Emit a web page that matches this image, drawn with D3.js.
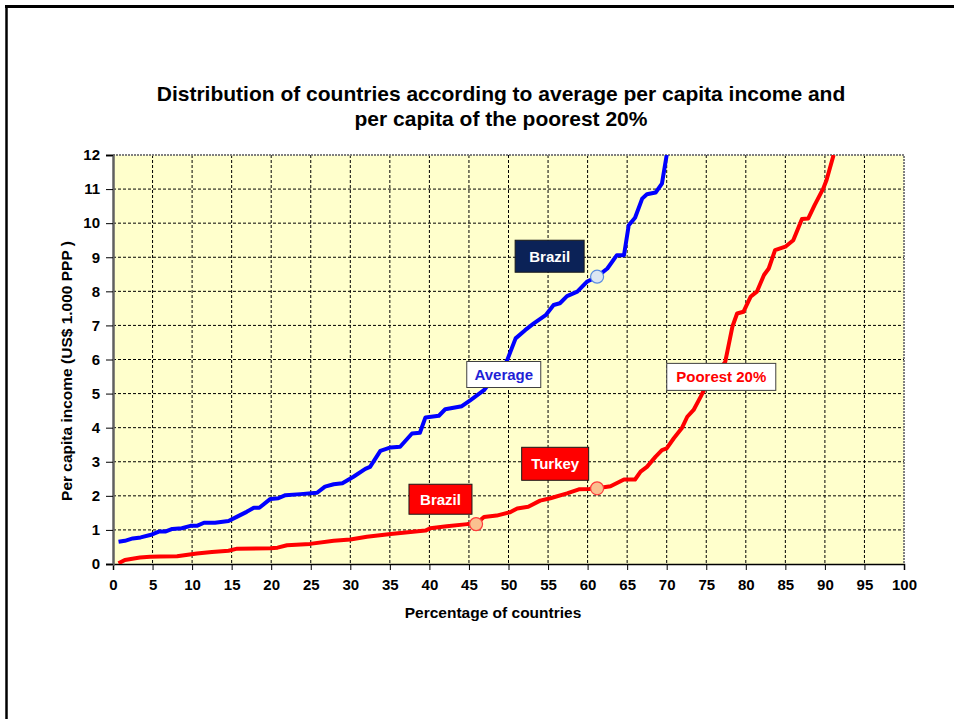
<!DOCTYPE html>
<html>
<head>
<meta charset="utf-8">
<script src="https://cdn.jsdelivr.net/npm/d3@7"></script>
<style>
  body { margin: 0; background: #fff; }
  svg text { font-family: "Liberation Sans", Arial, sans-serif; font-weight: bold; }
</style>
</head>
<body>
<div id="chart"></div>
<script>
// percentage of countries (x) and per capita income, US$ 1.000 PPP (y)
var avgPct = [0.7, 1.5, 2.5, 3.5, 4.7, 5.8, 6.6, 7.5, 8.7, 9.8, 10.6, 11.5, 12.9, 14.6, 15.7, 16.9, 17.8, 18.5,
  19.9, 20.9, 21.8, 23.7, 25.8, 26.8, 27.9, 29, 30.4, 31.9, 32.5, 33.8, 35.1, 36.3, 37.8, 38.8, 39.5, 41.2,
  42, 44.1, 45.2, 46.9, 49.8, 50.9, 52.1, 53.2, 54.7, 55.7, 56.5, 57.4, 58.7, 59.9, 61.2, 62.5, 63.7, 64.6,
  65.2, 66, 66.9, 67.5, 68.6, 69.4, 70];
var avgIncome = [0.65, 0.68, 0.75, 0.78, 0.85, 0.95, 0.95, 1.03, 1.05, 1.12, 1.12, 1.21, 1.21, 1.26, 1.39, 1.53, 1.65, 1.65,
  1.91, 1.93, 2.02, 2.05, 2.09, 2.27, 2.34, 2.37, 2.56, 2.79, 2.85, 3.32, 3.42, 3.44, 3.83, 3.85, 4.3, 4.35,
  4.54, 4.63, 4.81, 5.1, 5.96, 6.62, 6.86, 7.06, 7.3, 7.6, 7.65, 7.86, 7.99, 8.28, 8.43, 8.67, 9.06, 9.06,
  9.94, 10.16, 10.72, 10.85, 10.9, 11.16, 12];

var poorPct = [0.7, 1.5, 3.4, 4.7, 6, 8.1, 10.6, 12.5, 14.6, 15.7, 19.9, 20.8, 22, 24.9, 27.9, 30, 32.1, 35.1,
  39.5, 40.1, 42.2, 44.8, 45.9, 46.9, 48.5, 50.2, 51.1, 52.5, 54, 55.3, 57.4, 58.9, 60.2, 61.2, 62.9, 64.6,
  66, 66.7, 67.5, 68.6, 69.4, 70, 70.9, 71.9, 72.6, 73.4, 74.3, 74.9, 77.4, 78.3, 78.9, 79.7, 80.6, 81.4,
  82.3, 82.9, 83.7, 85, 86, 87.1, 87.9, 88.7, 89.8, 90.2, 91.1];
var poorIncome = [0.02, 0.12, 0.19, 0.21, 0.22, 0.23, 0.31, 0.35, 0.39, 0.45, 0.46, 0.48, 0.55, 0.59, 0.68, 0.72, 0.8, 0.88,
  0.98, 1.05, 1.11, 1.17, 1.18, 1.38, 1.42, 1.52, 1.63, 1.68, 1.86, 1.93, 2.07, 2.19, 2.2, 2.22, 2.28, 2.48,
  2.48, 2.71, 2.85, 3.15, 3.34, 3.39, 3.69, 3.98, 4.32, 4.52, 4.91, 5.2, 5.93, 6.96, 7.35, 7.4, 7.84, 7.99,
  8.48, 8.67, 9.21, 9.31, 9.5, 10.12, 10.14, 10.53, 11.02, 11.26, 12];

// highlighted countries
var markerSeries = ["avg", "poor", "poor"];
var markerNames = ["Brazil", "Brazil", "Turkey"];
var markerPct = [61.2, 45.9, 61.2];
var markerIncome = [8.43, 1.17, 2.22];

var xTicks = d3.range(0, 101, 5);
var yTicks = d3.range(0, 13, 1);

var W = 954, H = 719;
var x = d3.scaleLinear().domain([0, 100]).range([113, 904]);
var y = d3.scaleLinear().domain([0, 12]).range([564, 155]);

var svg = d3.select("#chart").append("svg")
  .attr("width", W)
  .attr("height", H);

// slide frame
svg.append("line").attr("x1", 5).attr("x2", W).attr("y1", 6.5).attr("y2", 6.5)
  .attr("stroke", "#000").attr("stroke-width", 3);
svg.append("line").attr("x1", 6.5).attr("x2", 6.5).attr("y1", 5).attr("y2", H)
  .attr("stroke", "#000").attr("stroke-width", 2.5);

// title
svg.append("text")
  .attr("x", 501).attr("y", 101)
  .attr("text-anchor", "middle")
  .style("font-size", "21px")
  .text("Distribution of countries according to average per capita income and");
svg.append("text")
  .attr("x", 501).attr("y", 126)
  .attr("text-anchor", "middle")
  .style("font-size", "21px")
  .text("per capita of the poorest 20%");

// plot area
svg.append("rect")
  .attr("x", x(0)).attr("y", y(12))
  .attr("width", x(100) - x(0)).attr("height", y(0) - y(12))
  .attr("fill", "#ffffcc");

// grid
var grid = svg.append("g");
grid.selectAll(".vg")
  .data(xTicks.filter(function (d) { return d > 0 && d < 100; }))
  .enter().append("line")
  .attr("x1", function (d) { return x(d); }).attr("x2", function (d) { return x(d); })
  .attr("y1", y(12)).attr("y2", y(0))
  .attr("stroke", "#000").attr("stroke-dasharray", "3,2");
grid.selectAll(".hg")
  .data(yTicks.filter(function (d) { return d > 0 && d < 12; }))
  .enter().append("line")
  .attr("x1", x(0)).attr("x2", x(100))
  .attr("y1", function (d) { return y(d); }).attr("y2", function (d) { return y(d); })
  .attr("stroke", "#000").attr("stroke-dasharray", "3,2");

// top and right edges
svg.append("path")
  .attr("d", "M" + x(0) + "," + y(12) + "H" + x(100) + "V" + y(0))
  .attr("fill", "none")
  .attr("stroke", "#808080").attr("stroke-width", 2).attr("stroke-dasharray", "2,1");

// axes
var xAxis = d3.axisBottom(x).tickValues(xTicks).tickSize(6).tickPadding(9);
var yAxis = d3.axisLeft(y).tickValues(yTicks).tickSize(7).tickPadding(6);

var gx = svg.append("g")
  .attr("transform", "translate(0," + y(0) + ")")
  .call(xAxis);
gx.select(".domain").attr("stroke", "#000").attr("stroke-width", 1.5);
gx.selectAll("text").style("font-size", "15px").style("font-family", "'Liberation Sans', Arial, sans-serif").style("font-weight", "bold");

var gy = svg.append("g")
  .attr("transform", "translate(" + x(0) + ",0)")
  .call(yAxis);
gy.select(".domain").attr("stroke", "#606060").attr("stroke-width", 2.5);
gy.selectAll("text").style("font-size", "15px").style("font-family", "'Liberation Sans', Arial, sans-serif").style("font-weight", "bold");

// axis titles
svg.append("text")
  .attr("x", 493).attr("y", 618)
  .attr("text-anchor", "middle")
  .style("font-size", "15.5px")
  .text("Percentage of countries");
svg.append("text")
  .attr("transform", "translate(72,371) rotate(-90)")
  .attr("text-anchor", "middle")
  .style("font-size", "15.5px")
  .text("Per capita income (US$ 1.000 PPP )");

// curves
svg.append("clipPath").attr("id", "clip")
  .append("rect")
  .attr("x", x(0)).attr("y", y(12))
  .attr("width", x(100) - x(0)).attr("height", y(0) - y(12));

var line = d3.line()
  .x(function (d) { return x(d[0]); })
  .y(function (d) { return y(d[1]); });

var avgData = d3.zip(avgPct, avgIncome);
var poorData = d3.zip(poorPct, poorIncome);

var curves = svg.append("g").attr("clip-path", "url(#clip)");
curves.append("path").datum(avgData)
  .attr("d", line)
  .attr("fill", "none").attr("stroke", "#0000ff")
  .attr("stroke-width", 4).attr("stroke-linejoin", "round");
curves.append("path").datum(poorData)
  .attr("d", line)
  .attr("fill", "none").attr("stroke", "#ff0000")
  .attr("stroke-width", 4).attr("stroke-linejoin", "round");

// markers
svg.selectAll(".marker")
  .data(d3.range(markerNames.length))
  .enter().append("circle")
  .attr("cx", function (i) { return x(markerPct[i]); })
  .attr("cy", function (i) { return y(markerIncome[i]); })
  .attr("r", 6.5)
  .attr("fill", function (i) { return markerSeries[i] == "avg" ? "#dce6f2" : "#fac090"; })
  .attr("stroke", function (i) { return markerSeries[i] == "avg" ? "#5b8de0" : "#ff3b3b"; })
  .attr("stroke-width", 1.2);

// callout boxes (centre in data units, size in px)
var callouts = [
  { text: "Brazil", cx: 55.2, cy: 9.03, w: 69, h: 32, fill: "#0b2257", color: "#fff", border: "#1a1a1a" },
  { text: "Average", cx: 49.4, cy: 5.56, w: 74, h: 26, fill: "#fff", color: "#1f1fd6", border: "#404040" },
  { text: "Brazil", cx: 41.4, cy: 1.9, w: 63, h: 30, fill: "#ff0000", color: "#fff", border: "#1a1a1a" },
  { text: "Turkey", cx: 55.9, cy: 2.94, w: 67, h: 33, fill: "#ff0000", color: "#fff", border: "#1a1a1a" },
  { text: "Poorest 20%", cx: 76.9, cy: 5.49, w: 109, h: 27, fill: "#fff", color: "#ff0000", border: "#404040" }
];

var cg = svg.selectAll(".callout")
  .data(callouts)
  .enter().append("g")
  .attr("transform", function (d) { return "translate(" + x(d.cx) + "," + y(d.cy) + ")"; });
cg.append("rect")
  .attr("x", function (d) { return -d.w / 2; })
  .attr("y", function (d) { return -d.h / 2; })
  .attr("width", function (d) { return d.w; })
  .attr("height", function (d) { return d.h; })
  .attr("fill", function (d) { return d.fill; })
  .attr("stroke", function (d) { return d.border; })
  .attr("stroke-width", 1);
cg.append("text")
  .attr("text-anchor", "middle")
  .attr("dy", "0.36em")
  .style("font-size", "15px")
  .attr("fill", function (d) { return d.color; })
  .text(function (d) { return d.text; });
</script>
</body>
</html>
